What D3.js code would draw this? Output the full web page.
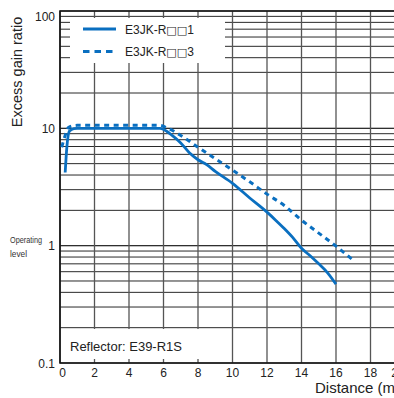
<!DOCTYPE html>
<html>
<head>
<meta charset="utf-8">
<script src="https://cdn.jsdelivr.net/npm/d3@7"></script>
<style>
    html, body { margin: 0; padding: 0; background: #fff; }
    svg { display: block; }
</style>
</head>
<body>
<svg id="chart"></svg>
<script>
// Excess gain ratio vs distance, log y axis

const WIDTH = 394;
const HEIGHT = 398;
const LEFT = 60;
const TOP = 11;
const BOTTOM = 363;
const RIGHT = 405;
const BLUE = "#0a6fc0";
const FONT = "'Liberation Sans', Arial, Helvetica, sans-serif";

const SERIES_NAMES = ["E3JK-R\u25A1\u25A11", "E3JK-R\u25A1\u25A13"];

const distR1 = [0.3, 0.4, 0.55, 0.8, 1, 2, 3, 4, 5, 5.8, 6.2, 6.5, 7, 7.5, 8, 8.5, 9, 10, 11, 12, 12.5, 13, 13.5, 14, 14.5, 15, 15.5, 16];
const gainR1 = [4.2, 7.0, 9.5, 9.95, 10, 10, 10, 10, 10, 10, 9.4, 8.7, 7.5, 6.2, 5.4, 4.9, 4.3, 3.4, 2.55, 1.93, 1.65, 1.4, 1.17, 0.95, 0.82, 0.7, 0.59, 0.47];

const distR3 = [0.1, 0.3, 0.5, 1, 2, 3, 4, 5, 5.8, 6.2, 7, 8, 9, 10, 11, 12, 13, 14, 15, 16, 17];
const gainR3 = [6.9, 8.7, 10.2, 10.6, 10.6, 10.6, 10.6, 10.6, 10.6, 10.1, 8.7, 6.9, 5.5, 4.4, 3.5, 2.75, 2.2, 1.65, 1.28, 0.99, 0.75];

const xTicks = [0, 2, 4, 6, 8, 10, 12, 14, 16, 18, 20];
const yTicks = [0.1, 1, 10, 100];
const yTickLabels = ["0.1", "1", "10", "100"];

const svg = d3.select("#chart")
    .attr("width", WIDTH)
    .attr("height", HEIGHT)
    .attr("font-family", FONT);

const x = d3.scaleLinear().domain([0, 20]).range([LEFT, RIGHT]);
const y = d3.scaleLog().domain([0.1, 100]).range([BOTTOM, TOP]);

// minor log grid: 1..9 in each decade
const yGrid = [];
[0.1, 1, 10].forEach(base => {
    for (let k = 1; k <= 10; k++) yGrid.push(base * k);
});

svg.append("g")
    .selectAll("line")
    .data(yGrid)
    .join("line")
    .attr("x1", LEFT).attr("x2", RIGHT)
    .attr("y1", d => y(d)).attr("y2", d => y(d))
    .attr("stroke", "#2a2a2a")
    .attr("stroke-width", 1);

svg.append("g")
    .selectAll("line")
    .data(xTicks)
    .join("line")
    .attr("x1", d => x(d)).attr("x2", d => x(d))
    .attr("y1", TOP).attr("y2", BOTTOM)
    .attr("stroke", "#555")
    .attr("stroke-width", 1.3);

// frame
svg.append("path")
    .attr("d", `M${RIGHT},${TOP}H${LEFT}V${BOTTOM}H${RIGHT}`)
    .attr("fill", "none")
    .attr("stroke", "#111")
    .attr("stroke-width", 1.6);

// white boxes over the grid
svg.append("rect")
    .attr("x", 70).attr("y", 18)
    .attr("width", 155).attr("height", 45)
    .attr("fill", "#fff");

svg.append("rect")
    .attr("x", LEFT + 1).attr("y", 329)
    .attr("width", 141).attr("height", 30)
    .attr("fill", "#fff");

// curves
const line = d3.line()
    .x(d => x(d[0]))
    .y(d => y(d[1]))
    .curve(d3.curveMonotoneX);

svg.append("path")
    .datum(distR3.map((d, i) => [d, gainR3[i]]))
    .attr("d", line)
    .attr("fill", "none")
    .attr("stroke", BLUE)
    .attr("stroke-width", 3)
    .attr("stroke-dasharray", "5,4.5");

svg.append("path")
    .datum(distR1.map((d, i) => [d, gainR1[i]]))
    .attr("d", line)
    .attr("fill", "none")
    .attr("stroke", BLUE)
    .attr("stroke-width", 2.8)
    .attr("stroke-linejoin", "round");

// legend; the boxes come from DejaVu so they keep their full size
const legend = svg.append("g");
SERIES_NAMES.forEach((name, i) => {
    const ly = 29 + i * 22.5;
    legend.append("line")
        .attr("x1", 83).attr("x2", 116)
        .attr("y1", ly).attr("y2", ly)
        .attr("stroke", BLUE)
        .attr("stroke-width", 3.2)
        .attr("stroke-dasharray", i === 0 ? null : "6.5,5");
    const t = legend.append("text")
        .attr("x", 125).attr("y", ly + 4.5)
        .attr("font-size", "12px")
        .attr("fill", "#222");
    t.append("tspan").text(name.slice(0, 6));
    t.append("tspan")
        .attr("font-family", "'DejaVu Sans', sans-serif")
        .attr("font-size", "11px")
        .text(name.slice(6, 8));
    t.append("tspan").text(name.slice(8));
});

svg.append("text")
    .attr("x", 70).attr("y", 351)
    .attr("font-size", "13px")
    .attr("fill", "#222")
    .text("Reflector: E39-R1S");

// y tick labels
svg.append("g")
    .selectAll("text")
    .data(yTicks)
    .join("text")
    .attr("x", 55)
    .attr("y", d => y(d) + (d === 100 ? 9.5 : 4.5))
    .attr("text-anchor", "end")
    .attr("font-size", "12px")
    .attr("fill", "#222")
    .text((d, i) => yTickLabels[i]);

// x tick labels
svg.append("g")
    .selectAll("text")
    .data(xTicks)
    .join("text")
    .attr("x", d => x(d) + (d === 0 ? 2.5 : d === 20 ? -7 : 0))
    .attr("y", 377)
    .attr("text-anchor", "middle")
    .attr("font-size", "12px")
    .attr("fill", "#222")
    .text(d => d);

svg.append("text")
    .attr("x", 315).attr("y", 393)
    .attr("font-size", "15px")
    .attr("fill", "#222")
    .text("Distance (m)");

svg.append("text")
    .attr("transform", "translate(22, 72) rotate(-90)")
    .attr("text-anchor", "middle")
    .attr("font-size", "14.5px")
    .attr("fill", "#222")
    .text("Excess gain ratio");

// operating level note
svg.append("text")
    .attr("x", 10).attr("y", 243)
    .attr("font-size", "9.5px")
    .attr("fill", "#333")
    .attr("textLength", 32)
    .attr("lengthAdjust", "spacingAndGlyphs")
    .text("Operating");

svg.append("text")
    .attr("x", 10).attr("y", 257)
    .attr("font-size", "9.5px")
    .attr("fill", "#333")
    .attr("textLength", 17)
    .attr("lengthAdjust", "spacingAndGlyphs")
    .text("level");
</script>
</body>
</html>
